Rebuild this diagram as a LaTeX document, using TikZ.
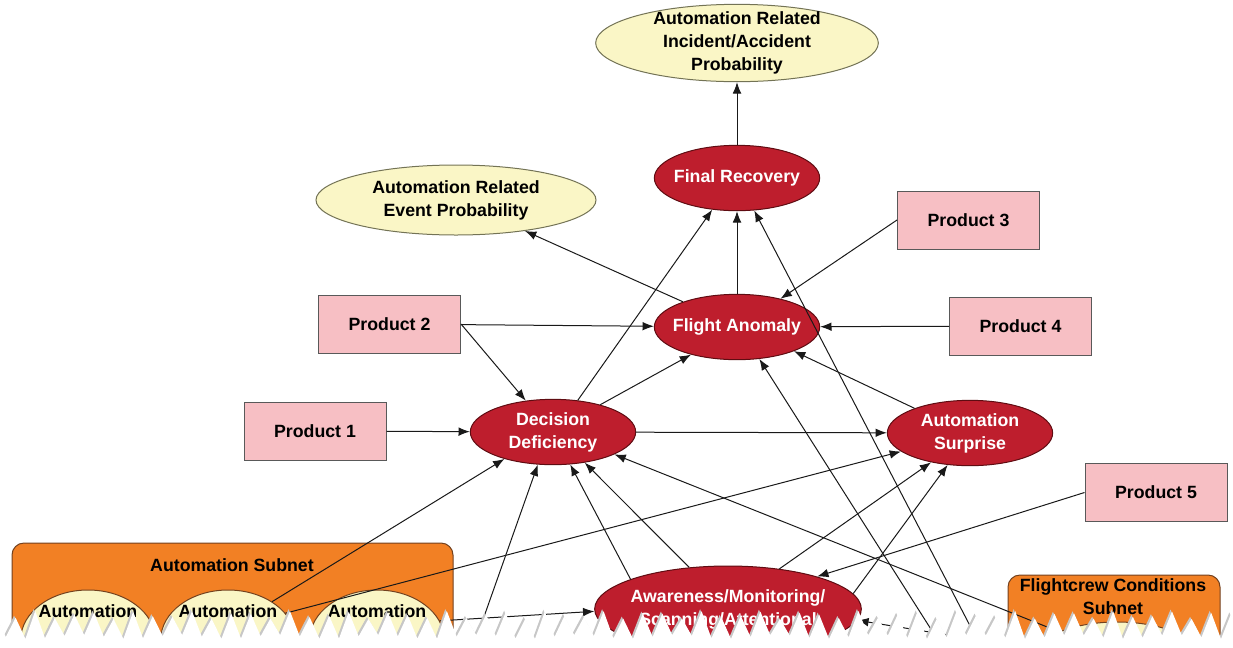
\documentclass[tikz,border=0pt]{standalone}
\usepackage{fontspec}
\setmainfont{Liberation Sans}
\usetikzlibrary{shapes.geometric,arrows.meta}
\definecolor{nodered}{RGB}{190,30,45}
\definecolor{noderededge}{RGB}{95,12,18}
\definecolor{probyellow}{RGB}{250,246,198}
\definecolor{probedge}{RGB}{115,115,85}
\definecolor{prodpink}{RGB}{247,191,196}
\definecolor{subnetorange}{RGB}{242,128,36}
\definecolor{subnetedge}{RGB}{115,65,30}
\definecolor{linkgray}{RGB}{25,25,25}

\begin{document}
\begin{tikzpicture}[x=0.75pt,y=0.75pt,yscale=-1,xscale=1,
	every node/.style={font={\fontsize{13.3}{17.25}\selectfont\bfseries},align=center},
	factor/.style={ellipse,draw=noderededge,fill=nodered,text=white,line width=0.75pt,minimum width=124pt,minimum height=49pt,inner xsep=-10pt,inner ysep=-8pt},
	outcome/.style={ellipse,draw=probedge,fill=probyellow,line width=0.75pt,inner xsep=-10pt,inner ysep=-10pt},
	product/.style={rectangle,draw=black!65,fill=prodpink,line width=0.75pt,minimum width=106.5pt,minimum height=43.5pt},
	subellipse/.style={ellipse,draw=subnetedge,fill=probyellow,line width=0.75pt,minimum width=101pt,minimum height=75pt},
	subnetbox/.style={draw=subnetedge,fill=subnetorange,line width=0.75pt,rounded corners=9pt},
	link/.style={draw=linkgray,line width=0.75pt,-{Latex[length=8.5pt,width=6.5pt]}}]
	\useasboundingbox (0,0) rectangle (1233,647);
	\clip (0,0) rectangle (1233,647);

	\draw[subnetbox] (12,670) -- (12,543) -- (453,543) -- (453,670);
	\node (autotitle) at (232,565) {Automation Subnet};
	\node[subellipse] (auto1) at (88,640) {};
	\node[subellipse] (auto2) at (228,640) {};
	\node[subellipse] (auto3) at (377,640) {};
	\node (auto1txt) at (88,611) {Automation};
	\node (auto2txt) at (228,611) {Automation};
	\node (auto3txt) at (377,611) {Automation};

	\draw[subnetbox] (1008,670) -- (1008,575) -- (1220,575) -- (1220,670);
	\node (crewtitle) at (1113,597) {Flightcrew Conditions\\Subnet};
	\node[subellipse,minimum width=127.5pt,minimum height=57pt] (crew) at (1117,660) {};

	\node[outcome,minimum width=212pt,minimum height=58pt] (iap) at (737,43) {Automation Related\\Incident/Accident\\Probability};
	\node[outcome,minimum width=210pt,minimum height=52.5pt] (arep) at (456,200) {Automation Related\\Event Probability};

	\node[factor] (fr) at (737,178) {Final Recovery};
	\node[factor] (fa) at (737,327) {Flight Anomaly};
	\node[factor] (dd) at (553,432) {Decision\\Deficiency};
	\node[factor] (as) at (970,433) {Automation\\Surprise};
	\node[factor,minimum width=200pt,minimum height=64.5pt] (aw) at (728,609) {Awareness/Monitoring/\\Scanning/Attentional};

	\node[product] (p1) at (315,431) {Product 1};
	\node[product] (p2) at (389.5,324) {Product 2};
	\node[product] (p3) at (968.5,220) {Product 3};
	\node[product] (p4) at (1020.5,326) {Product 4};
	\node[product] (p5) at (1156,492.5) {Product 5};

	\coordinate (h1) at (980,645);
	\coordinate (h2) at (941,645);
	\coordinate (h3) at (474,645);
	\coordinate (h4) at (1010,645);

	\draw[link] (fr) -- (iap);
	\draw[link] (fa) -- (fr);
	\draw[link] (fa.155) -- (arep);
	\draw[link] (dd.52) -- (fr.232);
	\draw[link] (h1) -- (fr.298);
	\draw[link] (p3.west) -- (fa.33);
	\draw[link] (p4) -- (fa);
	\draw[link] (p2) -- (fa);
	\draw[link] (p2.east) -- (dd.131);
	\draw[link] (p1) -- (dd);
	\draw[link] (dd.30) -- (fa.211);
	\draw[link] (h2) -- (fa.305);
	\draw[link] (as.156) -- (fa.337);
	\draw[link] (dd) -- (as);
	\draw[link] (auto2.41) -- (dd.209);
	\draw[link] (auto2.25) -- (as.195);
	\draw[link] (h3) -- (dd.245);
	\draw[link] (aw.163) -- (dd.298);
	\draw[link] (aw.133) -- (dd.316);
	\draw[link] (crew.154) -- (dd.340);
	\draw[link] (auto3.17) -- (aw.181);
	\draw[link] (aw.38) -- (as.217);
	\draw[link] (aw.7) -- (as.235);
	\draw[link] (p5.west) -- (aw.20);
	\draw[link] (h4) -- (aw.355);

	\foreach \dx/\dy/\col in {-1.5/-2/black!22,0/0/white}
		\fill[\col] (-5,670) \foreach \k in {0,...,63} {-- ({\k*19.6-4+\dx},{615+4*sin(\k*137)+\dy}) -- ({\k*19.6+5.8+\dx},{637+2*sin(\k*71)+\dy})} -- (1245,670) -- cycle;
\end{tikzpicture}
\end{document}
